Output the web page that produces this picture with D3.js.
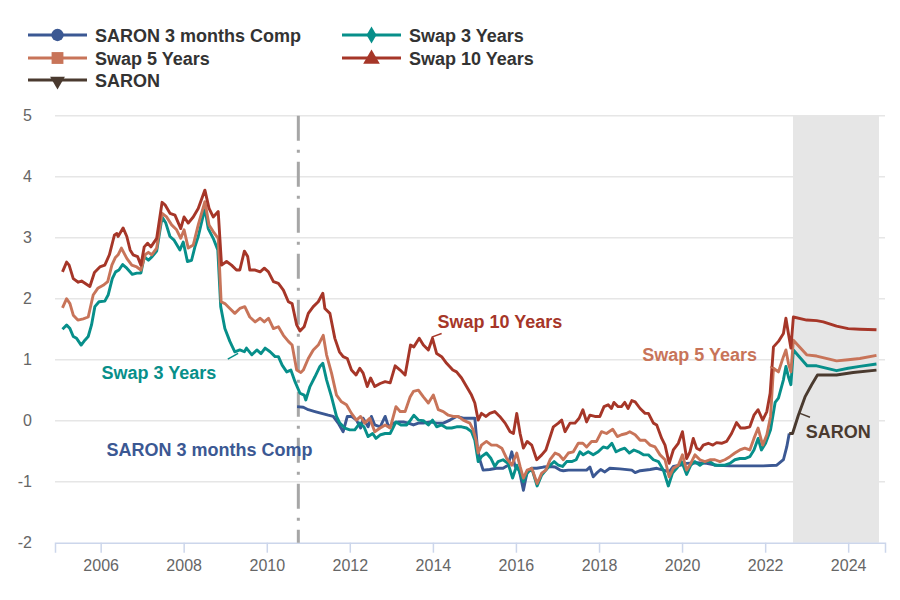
<!DOCTYPE html>
<html>
<head>
<meta charset="utf-8">
<script src="https://cdn.jsdelivr.net/npm/d3@7"></script>
<style>
  body { margin: 0; background: #fff; }
  svg { font-family: "Liberation Sans", Arial, sans-serif; }
</style>
</head>
<body>
<svg id="chart" width="900" height="600"></svg>
<script>
(function(root) {
  // Data: [decimal year, percent]
  const saron3mComp = [
    [2010.73,0.23],[2010.88,0.22],[2011.00,0.18],[2011.16,0.15],[2011.32,0.12],[2011.48,0.09],[2011.60,0.07],
    [2011.72,-0.04],[2011.84,-0.18],[2011.94,0.07],[2012.04,0.07],[2012.16,0.01],[2012.26,-0.12],[2012.32,0.04],
    [2012.44,-0.10],[2012.52,0.07],[2012.60,-0.07],[2012.73,-0.10],[2012.85,0.07],[2012.93,-0.10],[2013.05,-0.04],
    [2013.17,-0.02],[2013.29,-0.02],[2013.41,-0.04],[2013.53,-0.07],[2013.65,-0.04],[2013.77,-0.04],[2013.93,-0.02],
    [2014.09,-0.04],[2014.25,-0.04],[2014.41,0.01],[2014.57,0.07],[2014.73,0.04],[2014.89,0.04],[2015.01,0.04],
    [2015.07,-0.43],[2015.13,-0.64],[2015.21,-0.81],[2015.37,-0.80],[2015.53,-0.78],[2015.69,-0.78],[2015.81,-0.73],
    [2015.90,-0.51],[2015.98,-0.75],[2016.08,-0.81],[2016.18,-1.14],[2016.27,-0.84],[2016.38,-0.78],[2016.50,-0.78],
    [2016.66,-0.76],[2016.82,-0.75],[2016.94,-0.76],[2017.06,-0.81],[2017.14,-0.82],[2017.26,-0.81],[2017.54,-0.81],
    [2017.70,-0.81],[2017.78,-0.76],[2017.86,-0.92],[2017.94,-0.86],[2018.04,-0.80],[2018.14,-0.84],[2018.26,-0.78],
    [2018.50,-0.79],[2018.79,-0.81],[2018.87,-0.85],[2018.99,-0.82],[2019.23,-0.80],[2019.39,-0.78],[2019.55,-0.81],
    [2019.69,-0.84],[2019.79,-0.75],[2019.95,-0.73],[2020.11,-0.70],[2020.35,-0.69],[2020.59,-0.70],[2020.83,-0.73],
    [2021.15,-0.74],[2021.55,-0.74],[2021.95,-0.74],[2022.28,-0.73],[2022.44,-0.64],[2022.52,-0.43],[2022.58,-0.21]
  ];
  const swap3y = [
    [2005.08,1.50],[2005.18,1.57],[2005.26,1.51],[2005.34,1.38],[2005.42,1.35],[2005.53,1.24],[2005.62,1.32],
    [2005.70,1.38],[2005.78,1.57],[2005.86,1.87],[2005.96,1.95],[2006.10,1.96],[2006.18,2.06],[2006.28,2.33],
    [2006.36,2.44],[2006.44,2.47],[2006.53,2.56],[2006.63,2.50],[2006.76,2.40],[2006.87,2.42],[2006.97,2.42],
    [2007.05,2.69],[2007.15,2.63],[2007.24,2.69],[2007.35,2.78],[2007.48,3.34],[2007.57,3.24],[2007.67,3.02],
    [2007.77,2.96],[2007.91,2.80],[2007.99,2.93],[2008.09,2.61],[2008.19,2.63],[2008.27,2.85],[2008.35,3.02],
    [2008.51,3.48],[2008.59,3.15],[2008.71,2.99],[2008.82,2.80],[2008.89,1.87],[2008.99,1.51],[2009.11,1.30],
    [2009.23,1.13],[2009.35,1.16],[2009.46,1.13],[2009.51,1.19],[2009.64,1.08],[2009.76,1.16],[2009.86,1.10],
    [2009.96,1.19],[2010.08,1.13],[2010.20,1.05],[2010.28,1.05],[2010.37,0.91],[2010.48,0.80],[2010.58,0.83],
    [2010.68,0.64],[2010.80,0.45],[2010.90,0.42],[2010.94,0.34],[2011.04,0.56],[2011.16,0.72],[2011.28,0.89],
    [2011.35,0.94],[2011.44,0.67],[2011.56,0.39],[2011.68,0.07],[2011.76,-0.04],[2011.88,-0.12],[2012.00,-0.15],
    [2012.12,-0.15],[2012.24,-0.04],[2012.34,-0.10],[2012.44,-0.26],[2012.55,-0.21],[2012.63,-0.29],[2012.74,-0.23],
    [2012.85,-0.21],[2012.97,-0.21],[2013.11,-0.02],[2013.23,-0.07],[2013.37,-0.07],[2013.46,0.01],[2013.54,0.09],
    [2013.65,0.01],[2013.77,0.00],[2013.89,-0.07],[2013.99,0.01],[2014.09,-0.10],[2014.21,-0.07],[2014.33,-0.12],
    [2014.45,-0.12],[2014.57,-0.10],[2014.69,-0.10],[2014.81,-0.12],[2014.93,-0.18],[2015.01,-0.32],[2015.09,-0.67],
    [2015.17,-0.59],[2015.29,-0.53],[2015.40,-0.62],[2015.49,-0.75],[2015.57,-0.67],[2015.69,-0.64],[2015.81,-0.70],
    [2015.92,-0.94],[2016.02,-0.73],[2016.10,-0.86],[2016.18,-1.00],[2016.27,-0.86],[2016.38,-0.78],[2016.51,-1.07],
    [2016.62,-0.89],[2016.72,-0.81],[2016.82,-0.73],[2016.92,-0.67],[2017.02,-0.73],[2017.12,-0.75],[2017.22,-0.67],
    [2017.34,-0.67],[2017.45,-0.64],[2017.54,-0.51],[2017.62,-0.56],[2017.74,-0.51],[2017.86,-0.56],[2017.98,-0.51],
    [2018.10,-0.43],[2018.20,-0.45],[2018.31,-0.37],[2018.41,-0.51],[2018.50,-0.48],[2018.62,-0.45],[2018.73,-0.53],
    [2018.84,-0.48],[2018.95,-0.51],[2019.07,-0.56],[2019.19,-0.56],[2019.31,-0.64],[2019.43,-0.67],[2019.55,-0.81],
    [2019.67,-1.07],[2019.77,-0.86],[2019.87,-0.78],[2019.99,-0.67],[2020.11,-0.88],[2020.21,-0.73],[2020.31,-0.67],
    [2020.43,-0.73],[2020.55,-0.67],[2020.67,-0.67],[2020.79,-0.73],[2020.91,-0.73],[2021.03,-0.73],[2021.15,-0.70],
    [2021.27,-0.64],[2021.39,-0.62],[2021.51,-0.62],[2021.63,-0.59],[2021.73,-0.48],[2021.83,-0.29],[2021.91,-0.48],
    [2022.01,-0.37],[2022.13,-0.15],[2022.24,0.30],[2022.32,0.37],[2022.44,0.67],[2022.50,0.89],[2022.56,0.72],
    [2022.62,0.59],[2022.68,1.16],[2023.01,0.90],[2023.24,0.90],[2023.72,0.82],[2024.00,0.86],[2024.28,0.89],
    [2024.68,0.93]
  ];
  const swap5y = [
    [2005.08,1.85],[2005.18,2.00],[2005.26,1.92],[2005.34,1.73],[2005.45,1.65],[2005.58,1.67],[2005.70,1.70],
    [2005.82,2.06],[2005.93,2.17],[2006.06,2.22],[2006.17,2.28],[2006.27,2.55],[2006.35,2.67],[2006.42,2.72],
    [2006.50,2.83],[2006.63,2.66],[2006.75,2.55],[2006.87,2.52],[2006.97,2.47],[2007.07,2.72],[2007.15,2.76],
    [2007.23,2.72],[2007.35,2.83],[2007.48,3.40],[2007.59,3.34],[2007.71,3.21],[2007.83,3.13],[2007.93,2.99],
    [2008.01,3.13],[2008.11,2.83],[2008.23,2.88],[2008.35,3.21],[2008.51,3.59],[2008.61,3.21],[2008.71,3.10],
    [2008.83,2.99],[2008.90,1.95],[2008.99,1.92],[2009.11,1.84],[2009.23,1.76],[2009.35,1.84],[2009.47,1.87],
    [2009.59,1.70],[2009.72,1.62],[2009.84,1.68],[2009.94,1.62],[2010.04,1.68],[2010.16,1.51],[2010.28,1.54],
    [2010.40,1.40],[2010.52,1.30],[2010.61,1.24],[2010.72,0.83],[2010.82,0.79],[2010.88,0.83],[2011.00,1.02],
    [2011.12,1.16],[2011.24,1.24],[2011.36,1.40],[2011.44,1.08],[2011.56,0.78],[2011.68,0.42],[2011.80,0.31],
    [2011.92,0.26],[2012.04,0.12],[2012.16,0.01],[2012.26,0.07],[2012.36,-0.04],[2012.48,0.04],[2012.60,-0.18],
    [2012.73,-0.12],[2012.85,-0.07],[2012.97,-0.12],[2013.11,0.23],[2013.21,0.15],[2013.33,0.15],[2013.45,0.39],
    [2013.53,0.48],[2013.65,0.50],[2013.77,0.39],[2013.89,0.29],[2014.01,0.42],[2014.13,0.18],[2014.25,0.15],
    [2014.37,0.09],[2014.49,0.07],[2014.61,0.07],[2014.73,0.01],[2014.89,-0.04],[2014.97,-0.15],[2015.04,-0.32],
    [2015.09,-0.53],[2015.17,-0.40],[2015.29,-0.34],[2015.41,-0.40],[2015.53,-0.40],[2015.66,-0.45],[2015.78,-0.62],
    [2015.90,-0.73],[2016.02,-0.53],[2016.10,-0.75],[2016.18,-0.94],[2016.27,-0.81],[2016.38,-0.78],[2016.51,-1.03],
    [2016.62,-0.86],[2016.72,-0.81],[2016.82,-0.64],[2016.94,-0.53],[2017.04,-0.56],[2017.14,-0.64],[2017.26,-0.53],
    [2017.38,-0.51],[2017.50,-0.37],[2017.61,-0.37],[2017.70,-0.43],[2017.82,-0.34],[2017.94,-0.34],[2018.06,-0.18],
    [2018.18,-0.21],[2018.33,-0.14],[2018.44,-0.26],[2018.54,-0.23],[2018.66,-0.21],[2018.74,-0.18],[2018.87,-0.23],
    [2018.99,-0.32],[2019.11,-0.32],[2019.23,-0.40],[2019.35,-0.43],[2019.47,-0.56],[2019.59,-0.64],[2019.69,-0.92],
    [2019.79,-0.78],[2019.91,-0.73],[2020.01,-0.56],[2020.11,-0.81],[2020.21,-0.70],[2020.31,-0.56],[2020.43,-0.64],
    [2020.55,-0.67],[2020.67,-0.64],[2020.79,-0.64],[2020.91,-0.67],[2021.03,-0.64],[2021.15,-0.59],[2021.27,-0.53],
    [2021.39,-0.48],[2021.51,-0.45],[2021.63,-0.48],[2021.73,-0.29],[2021.83,-0.12],[2021.94,-0.40],[2022.04,-0.23],
    [2022.13,0.07],[2022.20,0.86],[2022.32,0.80],[2022.44,1.05],[2022.50,1.16],[2022.56,0.94],[2022.62,0.80],
    [2022.68,1.32],[2023.00,1.08],[2023.24,1.06],[2023.72,0.98],[2024.00,1.00],[2024.28,1.02],[2024.68,1.07]
  ];
  const swap10y = [
    [2005.08,2.44],[2005.18,2.60],[2005.24,2.55],[2005.34,2.33],[2005.46,2.27],[2005.54,2.29],[2005.74,2.20],
    [2005.85,2.43],[2005.98,2.52],[2006.10,2.55],[2006.21,2.72],[2006.33,3.04],[2006.39,3.07],[2006.42,3.02],
    [2006.54,3.16],[2006.63,3.02],[2006.71,2.80],[2006.78,2.72],[2006.89,2.69],[2006.97,2.55],[2007.05,2.85],
    [2007.13,2.91],[2007.21,2.85],[2007.35,2.99],[2007.48,3.58],[2007.55,3.54],[2007.67,3.40],[2007.79,3.37],
    [2007.93,3.15],[2008.01,3.34],[2008.11,3.24],[2008.23,3.34],[2008.35,3.48],[2008.51,3.78],[2008.61,3.48],
    [2008.71,3.34],[2008.83,3.43],[2008.91,2.55],[2009.03,2.61],[2009.15,2.55],[2009.27,2.47],[2009.35,2.47],
    [2009.46,2.78],[2009.54,2.69],[2009.59,2.47],[2009.72,2.47],[2009.84,2.44],[2009.94,2.50],[2010.04,2.44],
    [2010.16,2.28],[2010.28,2.25],[2010.40,2.14],[2010.52,1.95],[2010.61,1.92],[2010.72,1.57],[2010.80,1.47],
    [2010.90,1.54],[2011.00,1.76],[2011.12,1.87],[2011.24,1.95],[2011.35,2.09],[2011.40,1.84],[2011.52,1.76],
    [2011.64,1.35],[2011.75,1.13],[2011.84,1.05],[2011.94,1.02],[2012.04,0.83],[2012.15,0.75],[2012.24,0.86],
    [2012.32,0.78],[2012.42,0.56],[2012.50,0.70],[2012.60,0.56],[2012.73,0.61],[2012.85,0.64],[2012.97,0.62],
    [2013.09,0.90],[2013.21,0.83],[2013.33,0.75],[2013.46,1.24],[2013.54,1.21],[2013.67,1.35],[2013.77,1.24],
    [2013.89,1.16],[2013.99,1.35],[2014.09,1.10],[2014.21,1.05],[2014.33,0.94],[2014.48,0.83],[2014.57,0.80],
    [2014.69,0.70],[2014.81,0.56],[2014.93,0.42],[2015.01,0.29],[2015.09,0.01],[2015.17,0.12],[2015.28,0.07],
    [2015.37,0.12],[2015.49,0.15],[2015.61,0.07],[2015.74,-0.04],[2015.86,-0.18],[2015.94,-0.21],[2016.02,0.12],
    [2016.10,-0.21],[2016.18,-0.45],[2016.27,-0.34],[2016.38,-0.40],[2016.50,-0.64],[2016.62,-0.56],[2016.72,-0.48],
    [2016.90,-0.10],[2017.02,-0.04],[2017.10,0.01],[2017.18,-0.18],[2017.30,-0.04],[2017.42,-0.04],[2017.52,0.04],
    [2017.61,0.18],[2017.70,-0.02],[2017.78,0.09],[2017.90,0.07],[2018.02,0.07],[2018.12,0.23],[2018.22,0.26],
    [2018.30,0.20],[2018.36,0.30],[2018.46,0.23],[2018.54,0.23],[2018.62,0.30],[2018.70,0.20],[2018.79,0.33],
    [2018.87,0.31],[2018.99,0.20],[2019.11,0.12],[2019.19,0.12],[2019.31,-0.04],[2019.39,-0.07],[2019.51,-0.29],
    [2019.59,-0.40],[2019.69,-0.70],[2019.79,-0.48],[2019.91,-0.37],[2020.01,-0.18],[2020.11,-0.62],[2020.19,-0.51],
    [2020.27,-0.29],[2020.35,-0.45],[2020.43,-0.48],[2020.51,-0.40],[2020.63,-0.37],[2020.74,-0.40],[2020.83,-0.36],
    [2020.95,-0.37],[2021.07,-0.34],[2021.19,-0.21],[2021.31,-0.03],[2021.41,-0.12],[2021.51,-0.12],[2021.63,-0.10],
    [2021.73,0.09],[2021.83,0.18],[2021.94,0.01],[2022.04,0.15],[2022.12,0.45],[2022.20,1.21],[2022.32,1.30],
    [2022.44,1.43],[2022.50,1.68],[2022.56,1.43],[2022.62,1.19],[2022.68,1.70],[2023.00,1.65],[2023.24,1.64],
    [2023.40,1.62],[2023.72,1.55],[2024.00,1.51],[2024.28,1.50],[2024.68,1.49]
  ];
  const saron = [
    [2022.58,-0.21],[2022.66,-0.21],[2022.80,0.09],[2022.96,0.39],[2023.12,0.59],[2023.26,0.75],
    [2023.72,0.75],[2024.12,0.79],[2024.68,0.83]
  ];

  const yTicks = [-2, -1, 0, 1, 2, 3, 4, 5];
  const xDomain = [2004.9, 2024.885];
  const forecastBand = [2022.67, 2024.74];
  const saronStart = 2010.76;

  const series = [
    { name: "SARON 3 months Comp", data: saron3mComp, color: "#3b5893", symbol: d3.symbolCircle },
    { name: "Swap 3 Years", data: swap3y, color: "#078f8a", symbol: d3.symbolDiamond },
    { name: "Swap 5 Years", data: swap5y, color: "#c87459", symbol: d3.symbolSquare },
    { name: "Swap 10 Years", data: swap10y, color: "#a63628", symbol: d3.symbolTriangle },
    { name: "SARON", data: saron, color: "#4a3a2f", symbol: "down" }
  ];

  // label anchors in data units: [x year, y value], pointer from/to
  const labels = [
    { s: 3, text: "Swap 10 Years", at: [2014.11, 1.52], ptr: [[2013.97, 1.37], [2014.21, 1.43]] },
    { s: 2, text: "Swap 5 Years", at: [2019.04, 0.98], ptr: [[2022.12, 0.885], [2022.28, 0.83]] },
    { s: 1, text: "Swap 3 Years", at: [2006.02, 0.68], ptr: [[2009.06, 1.01], [2009.31, 1.105]] },
    { s: 0, text: "SARON 3 months Comp", at: [2006.14, -0.58], ptr: null },
    { s: 4, text: "SARON", at: [2022.98, -0.28], ptr: [[2022.84, 0.12], [2023.08, 0.056]] }
  ];

  const toDate = y => {
    const yr = Math.floor(y);
    const a = Date.UTC(yr, 0, 1), b = Date.UTC(yr + 1, 0, 1);
    return new Date(a + (y - yr) * (b - a));
  };

  const svg = d3.select("#chart");
  const left = 55, right = 885, top = 115.7, bottom = 542.7;

  const x = d3.scaleUtc().domain(xDomain.map(toDate)).range([left, right]);
  const y = d3.scaleLinear().domain([-2, 5]).range([bottom, top]);

  // grid
  svg.append("g").selectAll("line")
    .data(yTicks.filter(d => d > -2))
    .enter().append("line")
      .attr("x1", left).attr("x2", right)
      .attr("y1", d => y(d)).attr("y2", d => y(d))
      .attr("stroke", "#e6e6e6").attr("stroke-width", 1.5);

  svg.append("g").selectAll("text")
    .data(yTicks)
    .enter().append("text")
      .attr("x", 32).attr("y", d => y(d) + 5.5)
      .attr("text-anchor", "end")
      .attr("font-size", 16).attr("fill", "#666")
      .text(d => d);

  // forecast band
  svg.append("rect")
    .attr("x", x(toDate(forecastBand[0])))
    .attr("width", x(toDate(forecastBand[1])) - x(toDate(forecastBand[0])))
    .attr("y", top).attr("height", bottom - top)
    .attr("fill", "#e6e6e6");

  // x axis
  const xAxis = d3.axisBottom(x)
    .ticks(d3.utcYear.every(2))
    .tickFormat(d3.utcFormat("%Y"))
    .tickSize(10).tickPadding(7);
  const gx = svg.append("g").attr("transform", `translate(0,${bottom})`).call(xAxis);
  gx.select(".domain").attr("stroke", "#ccd6eb").attr("stroke-width", 1.5);
  gx.selectAll(".tick line").attr("stroke", "#ccd6eb").attr("stroke-width", 1.5);
  gx.selectAll(".tick text").attr("font-size", 16).attr("fill", "#666")
    .attr("font-family", "Liberation Sans, Arial, sans-serif");

  // SARON start marker
  svg.append("line")
    .attr("x1", x(toDate(saronStart))).attr("x2", x(toDate(saronStart)))
    .attr("y1", top).attr("y2", bottom)
    .attr("stroke", "#a6a6a6").attr("stroke-width", 3)
    .attr("stroke-dasharray", "25,9,3,9");

  const line = d3.line()
    .x(d => x(toDate(d[0])))
    .y(d => y(d[1]));

  series.forEach(s => {
    svg.append("path")
      .attr("d", line(s.data))
      .attr("fill", "none")
      .attr("stroke", s.color)
      .attr("stroke-width", 2.9)
      .attr("stroke-linejoin", "round");
  });

  // annotations
  labels.forEach(l => {
    const s = series[l.s];
    if (l.ptr) {
      svg.append("line")
        .attr("x1", x(toDate(l.ptr[0][0]))).attr("y1", y(l.ptr[0][1]))
        .attr("x2", x(toDate(l.ptr[1][0]))).attr("y2", y(l.ptr[1][1]))
        .attr("stroke", s.color).attr("stroke-width", 1.5);
    }
    svg.append("text")
      .attr("x", x(toDate(l.at[0]))).attr("y", y(l.at[1]))
      .attr("font-size", 18).attr("font-weight", "bold")
      .attr("fill", s.color)
      .text(l.text);
  });

  // legend
  const legendPos = [[28, 35], [342, 35], [28, 58], [342, 58], [28, 80]];
  const lg = svg.append("g");
  series.forEach((s, i) => {
    const [lx, ly] = legendPos[i];
    const g = lg.append("g").attr("transform", `translate(${lx},${ly})`);
    g.append("line").attr("x1", 0).attr("x2", 59).attr("y1", 0).attr("y2", 0)
      .attr("stroke", s.color).attr("stroke-width", 3.2);
    if (s.symbol === "down") {
      g.append("path").attr("d", d3.symbol(d3.symbolTriangle, 95)())
        .attr("transform", "translate(29.5,1) rotate(180)")
        .attr("fill", s.color);
    } else {
      const size = s.symbol === d3.symbolDiamond ? 85 : (s.symbol === d3.symbolSquare ? 140 : 120);
      g.append("path").attr("d", d3.symbol(s.symbol, size)())
        .attr("transform", `translate(29.5,${s.symbol === d3.symbolTriangle ? 1 : 0})`)
        .attr("fill", s.color);
    }
    g.append("text").attr("x", 67).attr("y", 6.5)
      .attr("font-size", 18).attr("font-weight", "bold").attr("fill", "#333")
      .text(s.name);
  });
})(window);
</script>
</body>
</html>
